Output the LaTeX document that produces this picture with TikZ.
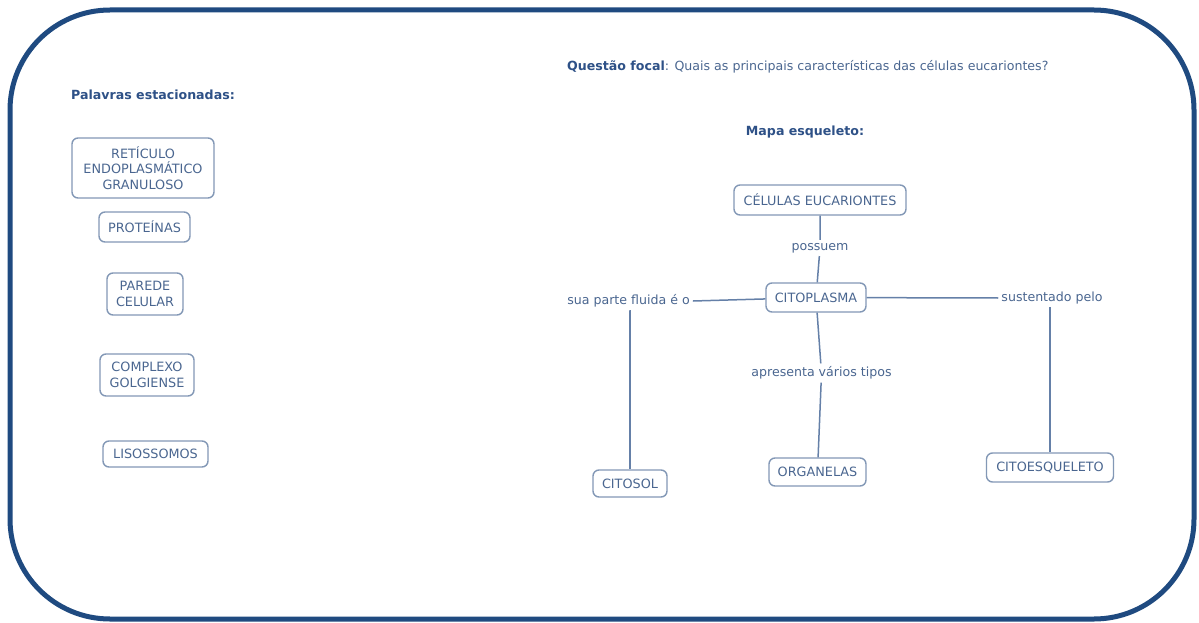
\documentclass[tikz,border=0pt]{standalone}
\usepackage{fontspec}
\setmainfont{DejaVu Sans}
\definecolor{framecol}{HTML}{1F4A80}
\definecolor{headcol}{HTML}{2E5187}
\definecolor{txtcol}{HTML}{4A6690}
\definecolor{boxcol}{HTML}{8398B6}
\definecolor{linecol}{HTML}{6580A8}
\begin{document}
\begin{tikzpicture}[x=1pt,y=-1pt,
  concept/.style={draw=boxcol, line width=1.4pt, rounded corners=6pt, text=txtcol,
    font=\fontsize{12.8}{15.5}\selectfont, align=center, inner sep=2pt},
  linklabel/.style={text=txtcol, font=\fontsize{12.6}{15}\selectfont, inner sep=3pt},
  heading/.style={text=headcol, font=\fontsize{12.6}{15}\selectfont\bfseries, inner sep=0pt},
  link/.style={draw=linecol, line width=1.5pt}]
\useasboundingbox (0,0) rectangle (1199,623);
\fill[white] (0,0) rectangle (1199,623);
% outer frame
\draw[framecol, line width=5pt, rounded corners=100pt] (10,10) rectangle (1194,619);

% headings
\node[heading, anchor=west] (hpal) at (71,95) {Palavras estacionadas:};
\node[anchor=west, inner sep=0pt, text=txtcol, font=\fontsize{12.6}{15}\selectfont] (hq) at (567,67)
  {\textcolor{headcol}{\bfseries Questão focal}: Quais as principais características das células eucariontes?};
\node[heading] (hmapa) at (805,132) {Mapa esqueleto:};

% parked words
\node[concept, minimum width=142pt, minimum height=60pt] (ret) at (143,168) {RETÍCULO\\ENDOPLASMÁTICO\\GRANULOSO};
\node[concept, minimum width=91pt, minimum height=30pt] (prot) at (144.5,227) {PROTEÍNAS};
\node[concept, minimum width=76pt, minimum height=42pt] (par) at (145,294) {PAREDE\\CELULAR};
\node[concept, minimum width=94pt, minimum height=42pt] (golg) at (147,375) {COMPLEXO\\GOLGIENSE};
\node[concept, minimum width=105pt, minimum height=26pt] (liso) at (155.5,454) {LISOSSOMOS};

% skeleton map
\node[concept, minimum width=172pt, minimum height=30pt] (cel) at (820,200) {CÉLULAS EUCARIONTES};
\node[concept, minimum width=100pt, minimum height=29pt] (cito) at (816,297.5) {CITOPLASMA};
\node[concept, minimum width=74pt, minimum height=27pt] (citosol) at (630,483.5) {CITOSOL};
\node[concept, minimum width=97pt, minimum height=28pt] (org) at (817.5,472) {ORGANELAS};
\node[concept, minimum width=127pt, minimum height=29pt] (cesq) at (1050,467.5) {CITOESQUELETO};

\node[linklabel] (lpos) at (820,248) {possuem};
\node[linklabel] (lflu) at (628.5,301) {sua parte fluida é o};
\node[linklabel] (lsus) at (1052,298) {sustentado pelo};
\node[linklabel] (lapr) at (821.5,373) {apresenta vários tipos};

\draw[link] (cel) -- (lpos) -- (cito);
\draw[link] (cito) -- (lflu.east);
\draw[link] (lflu) -- (lflu.south -| citosol.north) -- (citosol.north);
\draw[link] (cito) -- (lsus.west);
\draw[link] (lsus.south -| cesq.north) -- (cesq.north);
\draw[link] (cito) -- (lapr) -- (org);
\end{tikzpicture}
\end{document}
